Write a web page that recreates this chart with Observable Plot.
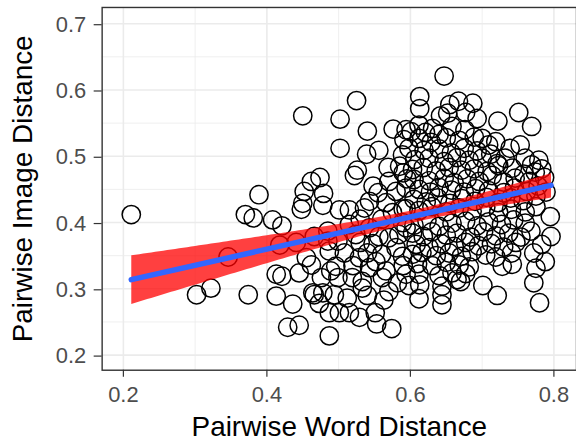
<!DOCTYPE html>
<html><head><meta charset="utf-8">
<script src="https://cdn.jsdelivr.net/npm/d3@7"></script>
<script src="https://cdn.jsdelivr.net/npm/@observablehq/plot@0.6"></script>
<style>html,body{margin:0;padding:0;background:#fff;overflow:hidden}</style>
</head><body><div id="chart"></div>
<script>
const xTitle = "Pairwise Word Distance";
const yTitle = "Pairwise Image Distance";
const xMajor = [0.2, 0.4, 0.6, 0.8];
const xMinor = [0.3, 0.5, 0.7];
const yMajor = [0.2, 0.3, 0.4, 0.5, 0.6, 0.7];
const yMinor = [0.25, 0.35, 0.45, 0.55, 0.65];

// [word distance, image distance]
const sparseLeft = [[0.211,0.412],[0.302,0.291],[0.322,0.301],[0.346,0.348],[0.370,0.412],[0.381,0.407],[0.374,0.291],[0.389,0.442],[0.408,0.404],[0.421,0.395],[0.418,0.366],[0.441,0.370],[0.413,0.322],[0.421,0.319],[0.445,0.324],[0.413,0.289],[0.436,0.277],[0.429,0.242],[0.445,0.245],[0.448,0.420],[0.452,0.447],[0.450,0.561]];
const middleLow = [[0.462,0.336],[0.464,0.294],[0.473,0.278],[0.487,0.229],[0.574,0.240],[0.553,0.247],[0.551,0.264],[0.529,0.257],[0.515,0.264],[0.501,0.264],[0.487,0.264],[0.466,0.291],[0.478,0.294],[0.494,0.291],[0.476,0.317],[0.489,0.327],[0.499,0.317],[0.496,0.334],[0.519,0.317],[0.533,0.311],[0.533,0.301],[0.570,0.296],[0.561,0.317],[0.566,0.327],[0.582,0.309],[0.594,0.322],[0.543,0.332],[0.552,0.341],[0.529,0.347],[0.540,0.354],[0.508,0.354],[0.487,0.357],[0.485,0.372],[0.499,0.372],[0.466,0.379],[0.570,0.377],[0.580,0.362],[0.589,0.349],[0.455,0.347],[0.563,0.283],[0.512,0.286],[0.540,0.290],[0.520,0.335],[0.560,0.352],[0.548,0.368],[0.530,0.370],[0.590,0.335],[0.598,0.305]];
const middleUpper = [[0.502,0.556],[0.525,0.584],[0.540,0.538],[0.502,0.512],[0.539,0.503],[0.556,0.509],[0.576,0.541],[0.594,0.540],[0.569,0.483],[0.526,0.479],[0.522,0.471],[0.585,0.485],[0.590,0.475],[0.595,0.466],[0.589,0.502],[0.474,0.468],[0.462,0.462],[0.479,0.444],[0.450,0.429],[0.478,0.426],[0.543,0.432],[0.566,0.430],[0.594,0.452],[0.501,0.419],[0.515,0.419],[0.536,0.422],[0.485,0.387],[0.515,0.397],[0.524,0.382],[0.543,0.392],[0.556,0.379],[0.584,0.382],[0.594,0.392],[0.560,0.405],[0.575,0.415],[0.590,0.420],[0.555,0.445],[0.580,0.447],[0.530,0.405],[0.570,0.462],[0.548,0.455]];
const upperRight = [[0.647,0.621],[0.613,0.590],[0.613,0.572],[0.655,0.578],[0.667,0.583],[0.687,0.580],[0.652,0.565],[0.677,0.566],[0.693,0.557],[0.722,0.553],[0.751,0.566],[0.769,0.545],[0.642,0.561],[0.601,0.537],[0.612,0.547],[0.631,0.542],[0.658,0.545],[0.700,0.527],[0.719,0.522],[0.709,0.517],[0.753,0.517],[0.739,0.512],[0.760,0.497],[0.732,0.497]];
const coreAbove = [[0.621,0.536],[0.640,0.533],[0.676,0.540],[0.591,0.525],[0.612,0.527],[0.629,0.521],[0.650,0.528],[0.668,0.524],[0.689,0.529],[0.598,0.512],[0.619,0.509],[0.640,0.511],[0.657,0.505],[0.675,0.512],[0.693,0.508],[0.712,0.503],[0.606,0.495],[0.626,0.497],[0.647,0.492],[0.665,0.498],[0.682,0.494],[0.700,0.497],[0.721,0.489],[0.603,0.480],[0.618,0.483],[0.636,0.478],[0.654,0.483],[0.671,0.479],[0.689,0.481],[0.707,0.477],[0.723,0.486],[0.742,0.482],[0.769,0.487],[0.779,0.494],[0.783,0.481],[0.774,0.476],[0.605,0.465],[0.626,0.463],[0.647,0.467],[0.661,0.460],[0.679,0.466],[0.696,0.462],[0.714,0.471],[0.746,0.467],[0.730,0.461],[0.758,0.473],[0.766,0.462],[0.787,0.468],[0.612,0.450],[0.628,0.446],[0.640,0.453],[0.657,0.449],[0.675,0.446],[0.691,0.451],[0.709,0.448],[0.730,0.445],[0.745,0.452],[0.762,0.447],[0.778,0.455]];
const coreBand = [[0.605,0.435],[0.622,0.431],[0.638,0.437],[0.655,0.429],[0.672,0.436],[0.690,0.432],[0.706,0.438],[0.722,0.430],[0.740,0.437],[0.757,0.433],[0.775,0.440],[0.789,0.446]];
const coreBelow = [[0.594,0.421],[0.612,0.418],[0.630,0.424],[0.650,0.416],[0.668,0.422],[0.686,0.417],[0.705,0.423],[0.723,0.415],[0.741,0.420],[0.760,0.416],[0.775,0.424],[0.589,0.400],[0.605,0.396],[0.623,0.403],[0.640,0.394],[0.658,0.399],[0.677,0.402],[0.693,0.395],[0.709,0.401],[0.727,0.397],[0.744,0.404],[0.760,0.399],[0.603,0.384],[0.618,0.379],[0.630,0.386],[0.650,0.381],[0.665,0.384],[0.684,0.378],[0.702,0.386],[0.719,0.380],[0.737,0.384],[0.754,0.378],[0.768,0.387],[0.608,0.367],[0.626,0.362],[0.643,0.368],[0.661,0.364],[0.677,0.370],[0.695,0.365],[0.713,0.368],[0.730,0.363],[0.747,0.370],[0.603,0.352],[0.616,0.355],[0.636,0.350],[0.654,0.354],[0.671,0.349],[0.686,0.356],[0.705,0.351],[0.719,0.348],[0.741,0.354],[0.610,0.338],[0.630,0.335],[0.650,0.340],[0.668,0.336],[0.682,0.333],[0.728,0.334],[0.742,0.337],[0.612,0.322],[0.640,0.320],[0.658,0.324],[0.665,0.314],[0.677,0.323],[0.613,0.306],[0.644,0.304],[0.670,0.311],[0.701,0.305]];
const lowerRight = [[0.612,0.285],[0.644,0.291],[0.644,0.276],[0.721,0.290],[0.780,0.279],[0.795,0.409],[0.796,0.379],[0.783,0.367],[0.788,0.341],[0.772,0.354],[0.775,0.331],[0.772,0.309]];

const points = [...sparseLeft, ...middleLow, ...middleUpper, ...upperRight, ...coreAbove, ...coreBand, ...coreBelow, ...lowerRight]
  .map(([word, image]) => ({word, image}));

const chart = Plot.plot({
  width: 578,
  height: 442,
  marginLeft: 102,
  marginRight: 0,
  marginTop: 7,
  marginBottom: 71,
  style: {fontFamily: "'Liberation Sans', Arial, Helvetica, sans-serif", background: "#fff", overflow: "visible"},
  x: {domain: [0.1704, 0.8315]},
  y: {domain: [0.1772, 0.7245]},
  marks: [
    Plot.ruleX(xMinor, {stroke: "#EBEBEB", strokeWidth: 0.8}),
    Plot.ruleY(yMinor, {stroke: "#EBEBEB", strokeWidth: 0.8}),
    Plot.ruleX(xMajor, {stroke: "#EBEBEB", strokeWidth: 1.6}),
    Plot.ruleY(yMajor, {stroke: "#EBEBEB", strokeWidth: 1.6}),
    Plot.dot(points, {x: "word", y: "image", r: 9.2, stroke: "black", strokeWidth: 1.5, fill: "none"}),
    Plot.linearRegressionY(points, {x: "word", y: "image", ci: 0.95, fill: "red", fillOpacity: 0.75, stroke: "#3366FF", strokeWidth: 5.5}),
    Plot.frame({stroke: "#333333", strokeWidth: 1.4}),
    Plot.axisX(xMajor, {tickSize: 7, tickPadding: 9, fontSize: 22, tickFormat: ".1f", stroke: "#333333", strokeWidth: 1.2, fill: "#4D4D4D", label: null}),
    Plot.axisY(yMajor, {tickSize: 8, tickPadding: 8, fontSize: 22, dy: 1, tickFormat: ".1f", stroke: "#333333", strokeWidth: 1.2, fill: "#4D4D4D", label: null}),
    Plot.text([xTitle], {frameAnchor: "bottom", textAnchor: "middle", lineAnchor: "middle", dy: 57, fontSize: 28, fill: "black"}),
    Plot.text([yTitle], {frameAnchor: "left", textAnchor: "middle", lineAnchor: "middle", rotate: -90, dx: -79, fontSize: 28, fill: "black"})
  ]
});
document.getElementById("chart").appendChild(chart);
</script>
</body></html>
